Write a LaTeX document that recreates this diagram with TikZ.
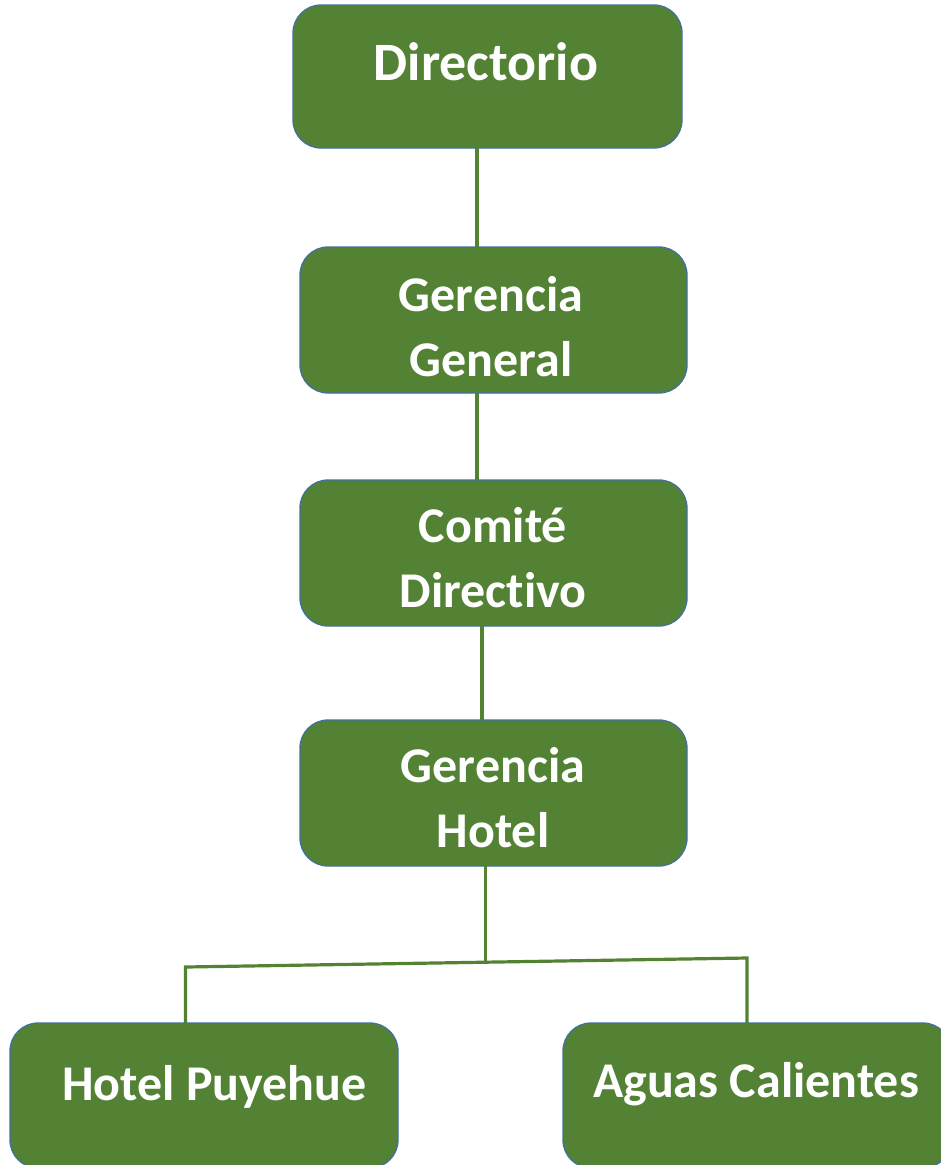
\documentclass[tikz,border=0pt]{standalone}
\usepackage{fontspec}
\setmainfont{Carlito}[RawFeature={-liga}]
\definecolor{boxgreen}{HTML}{548235}
\definecolor{boxedge}{HTML}{41719C}
\definecolor{linkgreen}{HTML}{548235}
\begin{document}
\begin{tikzpicture}[x=1pt,y=-1pt,
  orgbox/.style={draw=boxedge,line width=1.3pt,fill=boxgreen,rounded corners=28pt,
    minimum width=387pt,minimum height=146pt,inner sep=0pt,outer sep=0pt},
  orgtext/.style={text=white,font=\bfseries\fontsize{50}{65}\selectfont,align=center,
    inner sep=0pt,anchor=base},
  link/.style={draw=linkgreen,line width=3.2pt}]
\useasboundingbox (0,0) rectangle (941,1165);
\clip (0,0) rectangle (941,1165);
% boxes
\node[orgbox,minimum width=389pt,minimum height=143pt] (dir) at (487.5,76.5) {};
\node[orgbox] (gg) at (493.5,320) {};
\node[orgbox] (cd) at (493.5,553) {};
\node[orgbox] (gh) at (493.5,793) {};
\node[orgbox,minimum width=388pt,minimum height=145pt] (hp) at (204,1095.5) {};
\node[orgbox,minimum width=388pt,minimum height=145pt] (ac) at (757,1095.5) {};
% texts
\node[orgtext,font=\bfseries\fontsize{54}{65}\selectfont] (tdir) at (486,80) {Directorio};
\node[orgtext] (tgg) at (491,376) {Gerencia\\General};
\node[orgtext] (tcd) at (493,607) {Comité\\Directivo};
\node[orgtext] (tgh) at (493,847) {Gerencia\\Hotel};
\node[orgtext] (thp) at (214.5,1100) {Hotel Puyehue};
\node[orgtext] (tac) at (756,1097) {Aguas Calientes};
% connector helpers
\coordinate (c1) at (477,0);
\coordinate (c2) at (477,0);
\coordinate (c3) at (482,0);
\coordinate (jm) at (485.5,962.5);
\coordinate (jl) at (185.5,967);
\coordinate (jr) at (747,958);
% connectors
\draw[link] (dir.south -| c1) -- (gg.north -| c1);
\draw[link] (gg.south -| c2) -- (cd.north -| c2);
\draw[link] (cd.south -| c3) -- (gh.north -| c3);
\draw[link] (gh.south -| jm) -- (jm);
\draw[link,line join=miter] (hp.north -| jl) -- (jl) -- (jr) -- (ac.north -| jr);
\end{tikzpicture}
\end{document}
